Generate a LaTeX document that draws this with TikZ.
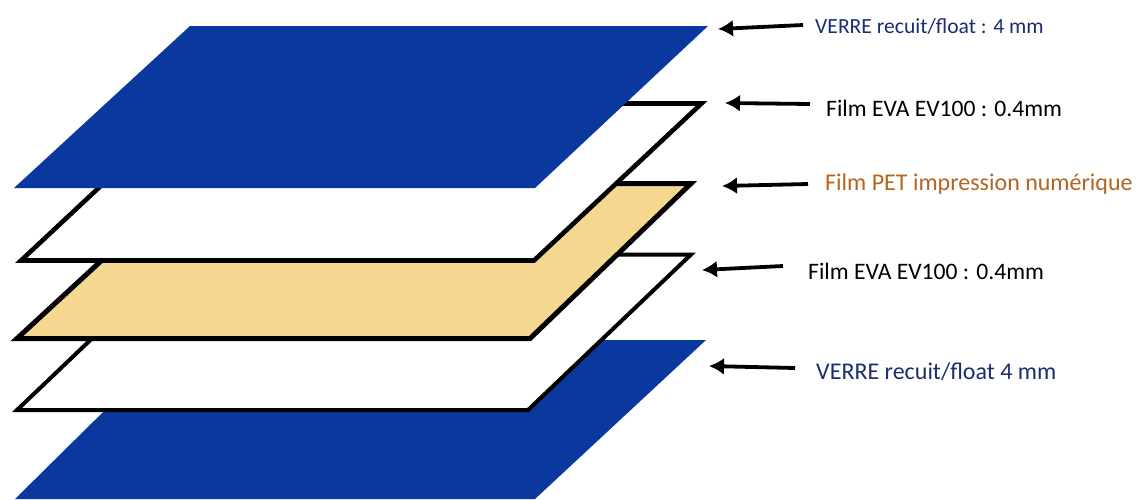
\documentclass[tikz,border=0pt]{standalone}
\usepackage{fontspec}
\setmainfont{Carlito}
\usetikzlibrary{arrows.meta}
\definecolor{glassblue}{HTML}{0B389F}
\definecolor{petfill}{HTML}{F5D78F}
\definecolor{navytext}{HTML}{1C2C70}
\definecolor{orangetext}{HTML}{B4641E}
\tikzset{
  glass/.style={fill=glassblue,draw=none},
  filmwhite/.style={fill=white,draw=black,line width=4.6pt,line join=miter},
  filmpet/.style={fill=petfill,draw=black,line width=5pt,line join=miter},
  lab/.style={anchor=west,inner sep=0pt},
  ptr/.style={draw=black,line width=3.8pt,-{Latex[length=15pt,width=17pt]}},
}
\begin{document}
\begin{tikzpicture}[x=1pt,y=-1pt]
\useasboundingbox (0,0) rectangle (1139,499);
% bottom glass
\fill[glass] (176,340) -- (706,340) -- (535,499) -- (15,499) -- cycle;
% lower EVA film
\draw[filmwhite,line width=4pt] (180,254.5) -- (691,254.5) -- (528,410) -- (17,410) -- cycle;
% PET film
\draw[filmpet] (185,183.5) -- (691,183.5) -- (530,338.5) -- (17,338.5) -- cycle;
% upper EVA film
\draw[filmwhite] (189,103.5) -- (701.5,103.5) -- (534,260.5) -- (21,260.5) -- cycle;
% top glass
\fill[glass] (190,26) -- (708,26) -- (535,188) -- (14,188) -- cycle;
% labels
\node[lab,text=navytext,font=\fontsize{21.6}{24}\selectfont] (l1) at (815,26) {VERRE recuit/float : 4 mm};
\node[lab,text=black,font=\fontsize{23.6}{26}\selectfont] (l2) at (826,108) {Film EVA EV100 : 0.4mm};
\node[lab,text=orangetext,font=\fontsize{24}{27}\selectfont] (l3) at (825,184) {Film PET impression numérique};
\node[lab,text=black,font=\fontsize{23.6}{26}\selectfont] (l4) at (808,271) {Film EVA EV100 : 0.4mm};
\node[lab,text=navytext,font=\fontsize{24}{27}\selectfont] (l5) at (816,372) {VERRE recuit/float 4 mm};
% arrows
\coordinate (t1) at (803,25); \coordinate (h1) at (718,29);
\coordinate (t2) at (810,104); \coordinate (h2) at (725,103);
\coordinate (t3) at (808,184); \coordinate (h3) at (722,186);
\coordinate (t4) at (783,266); \coordinate (h4) at (702,270);
\coordinate (t5) at (795,368); \coordinate (h5) at (709,366);
\draw[ptr] (t1) -- (h1);
\draw[ptr] (t2) -- (h2);
\draw[ptr] (t3) -- (h3);
\draw[ptr] (t4) -- (h4);
\draw[ptr] (t5) -- (h5);
\end{tikzpicture}
\end{document}
